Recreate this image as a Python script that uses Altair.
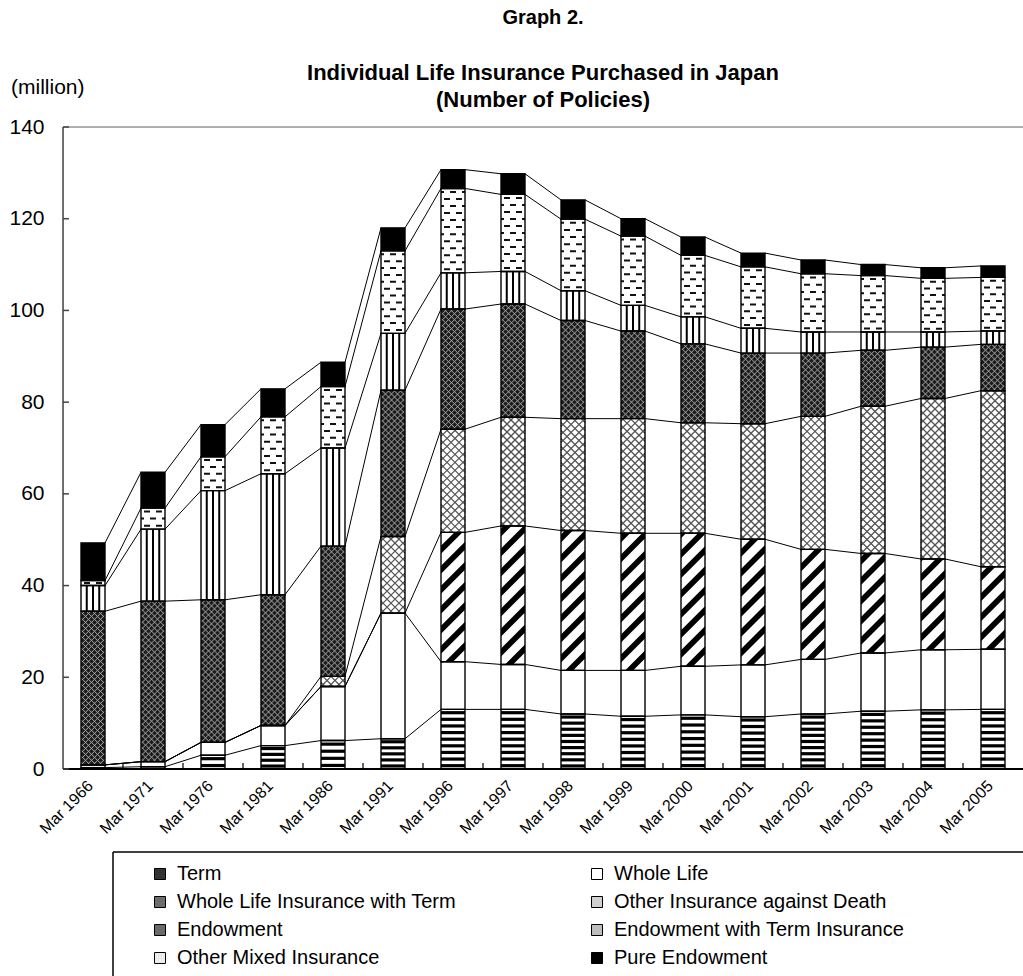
import json
import altair as alt
import pandas as pd

# ---------------- data (million policies) ----------------
years = ["Mar 1966", "Mar 1971", "Mar 1976", "Mar 1981", "Mar 1986", "Mar 1991",
         "Mar 1996", "Mar 1997", "Mar 1998", "Mar 1999", "Mar 2000", "Mar 2001",
         "Mar 2002", "Mar 2003", "Mar 2004", "Mar 2005"]
series = ["Term", "Whole Life", "Whole Life Insurance with Term",
          "Other Insurance against Death", "Endowment",
          "Endowment with Term Insurance", "Other Mixed Insurance", "Pure Endowment"]
term = [0.3, 0.5, 3.0, 5.1, 6.2, 6.6, 13.0, 13.0, 12.0, 11.5, 11.8, 11.4, 12.0, 12.6, 12.9, 13.0]
whole_life = [0.6, 1.1, 2.8, 4.4, 11.8, 27.4, 10.4, 9.8, 9.5, 10.0, 10.6, 11.3, 11.9, 12.7, 13.1, 13.1]
whole_life_term = [0, 0, 0, 0, 0, 0, 28.2, 30.2, 30.5, 29.9, 29.0, 27.4, 24.0, 21.7, 19.8, 18.0]
other_death = [0, 0, 0, 0, 2.2, 16.7, 22.5, 23.7, 24.4, 25.0, 24.1, 25.2, 29.0, 32.1, 35.0, 38.4]
endowment = [33.5, 35.0, 31.1, 28.5, 28.4, 31.9, 26.2, 24.7, 21.4, 19.1, 17.2, 15.4, 13.8, 12.2, 11.2, 10.1]
endow_term = [5.6, 15.7, 23.8, 26.4, 21.4, 12.4, 7.9, 7.1, 6.5, 5.6, 5.9, 5.4, 4.6, 4.0, 3.3, 2.9]
other_mixed = [1.1, 4.6, 7.4, 12.4, 13.4, 18.0, 18.4, 16.8, 15.6, 15.1, 13.4, 13.4, 12.7, 12.3, 11.7, 11.7]
pure_endow = [8.2, 7.8, 7.0, 6.1, 5.3, 5.0, 4.1, 4.5, 4.2, 3.8, 4.0, 3.0, 3.0, 2.4, 2.3, 2.5]
y_ticks = [0, 20, 40, 60, 80, 100, 120, 140]
# legend reading order (two columns, filled column by column)
legend_order = ["Term", "Whole Life Insurance with Term", "Endowment", "Other Mixed Insurance",
                "Whole Life", "Other Insurance against Death",
                "Endowment with Term Insurance", "Pure Endowment"]

# ---------------- layout / style ----------------
FONT = "Liberation Sans"
W, H = 960, 642
YMAX = 140
KX = W / 16.0          # px per x unit
KY = H / YMAX          # px per y unit
HALF = 0.2             # half bar width in x units

legend_color_map = {"Term": "#333333", "Whole Life": "#ffffff",
                    "Whole Life Insurance with Term": "#6e6e6e",
                    "Other Insurance against Death": "#d0d0d0", "Endowment": "#6a6a6a",
                    "Endowment with Term Insurance": "#bdbdbd",
                    "Other Mixed Insurance": "#ececec", "Pure Endowment": "#000000"}
bg_map = {"Term": "#ffffff", "Whole Life": "#ffffff",
          "Whole Life Insurance with Term": "#ffffff",
          "Other Insurance against Death": "#ffffff", "Endowment": "#1c1c1c",
          "Endowment with Term Insurance": "#ffffff",
          "Other Mixed Insurance": "#ffffff", "Pure Endowment": "#000000"}

cols = [term, whole_life, whole_life_term, other_death, endowment,
        endow_term, other_mixed, pure_endow]

seg_rows = []
cum_tops = {s: [] for s in series}
for i, yr in enumerate(years):
    base = 0.0
    for s, vals in zip(series, cols):
        v = vals[i]
        seg_rows.append(dict(year=yr, idx=i, series=s, xl=i - HALF, xr=i + HALF,
                             y0=base, y1=base + v, bg=bg_map[s]))
        base += v
        cum_tops[s].append(base)
seg = pd.DataFrame(seg_rows)


def segs_of(name):
    return [r for r in seg_rows if r["series"] == name and r["y1"] - r["y0"] > 1e-9]


def px_size(r):
    return (r["xr"] - r["xl"]) * KX, (r["y1"] - r["y0"]) * KY


def diag_lines(r, spacing):
    w, h = px_size(r)
    out = []
    c = -w
    while c < h:
        us, ue = max(0.0, -c), min(w, h - c)
        if ue - us > 0.3:
            out.append((us, us + c, ue, ue + c))
        c += spacing
    c = spacing / 2.0
    while c < h + w:
        us, ue = max(0.0, c - h), min(w, c)
        if ue - us > 0.3:
            out.append((us, c - us, ue, c - ue))
        c += spacing
    return [dict(x=r["xl"] + a / KX, y=r["y0"] + b / KY,
                 x2=r["xl"] + cc / KX, y2=r["y0"] + d / KY) for a, b, cc, d in out]


def stripe_areas(r, period, thick, sid0):
    w, h = px_size(r)
    rows = []
    sid = sid0
    c = -w - thick
    while c < h:
        bps = {0.0, w}
        for val in (-c, h - c, -c - thick, h - c - thick):
            if 0 < val < w:
                bps.add(val)
        pts = sorted(bps)
        lo = [min(max(u + c, 0.0), h) for u in pts]
        hi = [min(max(u + c + thick, 0.0), h) for u in pts]
        if any(b - a > 0.05 for a, b in zip(lo, hi)):
            for u, a, b in zip(pts, lo, hi):
                rows.append(dict(sid=sid, x=r["xl"] + u / KX,
                                 lo=r["y0"] + a / KY, hi=r["y0"] + b / KY))
            sid += 1
        c += period
    return rows, sid


# Term: horizontal stripes
term_rows = []
for r in segs_of("Term"):
    w, h = px_size(r)
    n = int(round(h / 6.4))
    for k in range(n):
        v = (k + 0.5) * h / n
        yv = r["y0"] + v / KY
        term_rows.append(dict(x=r["xl"], x2=r["xr"], y=yv, y2=yv))
term_df = pd.DataFrame(term_rows)

# Whole life with term: thick diagonal stripes
wlt_rows = []
sid = 0
for r in segs_of("Whole Life Insurance with Term"):
    rr, sid = stripe_areas(r, 20.0, 8.0, sid)
    wlt_rows += rr
wlt_df = pd.DataFrame(wlt_rows).sort_values(["sid", "x"])

# Other insurance against death: grey cross-hatch
oiad_rows = []
for r in segs_of("Other Insurance against Death"):
    oiad_rows += diag_lines(r, 8.0)
oiad_df = pd.DataFrame(oiad_rows)

# Endowment: dense light cross-hatch on dark ground
end_rows = []
for r in segs_of("Endowment"):
    end_rows += diag_lines(r, 6.0)
end_df = pd.DataFrame(end_rows)

# Endowment with term: vertical lines
ewt_rows = []
for r in segs_of("Endowment with Term Insurance"):
    for f in (0.24, 0.5, 0.76):
        xv = r["xl"] + f * (r["xr"] - r["xl"])
        ewt_rows.append(dict(x=xv, x2=xv, y=r["y0"], y2=r["y1"]))
ewt_df = pd.DataFrame(ewt_rows)

# Other mixed: staggered dashes
om_even, om_odd = [], []
for r in segs_of("Other Mixed Insurance"):
    w, h = px_size(r)
    n = int(round(h / 7.0))
    for k in range(n):
        v = (k + 0.5) * h / n
        yv = r["y0"] + v / KY
        (om_even if k % 2 == 0 else om_odd).append(dict(x=r["xl"], x2=r["xr"], y=yv, y2=yv))
om_even_df = pd.DataFrame(om_even)
om_odd_df = pd.DataFrame(om_odd)

# series lines between bars
sl_rows = []
for s in series:
    t = cum_tops[s]
    for i in range(len(years) - 1):
        sl_rows.append(dict(x=i + HALF, x2=i + 1 - HALF, y=t[i], y2=t[i + 1]))
sl_df = pd.DataFrame(sl_rows)

ytick_df = pd.DataFrame({"v": y_ticks})
xtick_df = pd.DataFrame({"x": [i + 0.5 for i in range(len(years) - 1)]})

xs = alt.Scale(domain=[-0.5, 15.5], nice=False, zero=False)
ys = alt.Scale(domain=[0, YMAX], nice=False)

label_expr = json.dumps(years) + "[datum.value]"
X_AX = alt.Axis(
    values=list(range(len(years))), labelExpr=label_expr, labelAngle=-45,
    labelAlign="right", labelBaseline="middle", labelFontSize=16,
    labelFont=FONT, labelColor="black", ticks=False, domain=False, grid=False,
    labelPadding=14, labelOffset=-3, labelOverlap=False, labelFlush=False, title=None)
Y_AX = alt.Axis(
    values=y_ticks, labelFontSize=21, labelFont=FONT, labelColor="black",
    ticks=False, domain=False, grid=False, labelPadding=19, title=None)


def rules(df, color, width, **kw):
    return alt.Chart(df).mark_rule(color=color, strokeWidth=width, **kw).encode(
        x=alt.X("x:Q", scale=xs, axis=X_AX), x2="x2:Q",
        y=alt.Y("y:Q", scale=ys, axis=Y_AX), y2="y2:Q")


base = alt.Chart(seg).mark_rect().encode(
    x=alt.X("xl:Q", scale=xs, axis=X_AX),
    x2="xr:Q",
    y=alt.Y("y0:Q", scale=ys, stack=False, axis=Y_AX),
    y2="y1:Q",
    color=alt.Color("series:N",
                    scale=alt.Scale(domain=legend_order,
                                    range=[legend_color_map[s] for s in legend_order]),
                    legend=alt.Legend(
                        orient="none", legendX=87, legendY=737, columns=2, title=None,
                        labelFont=FONT, labelFontSize=20, labelColor="black",
                        labelLimit=500, labelOffset=7, symbolType="square",
                        symbolSize=121, symbolStrokeColor="black",
                        symbolStrokeWidth=1, columnPadding=130, rowPadding=8,
                        padding=0)),
)

ground = alt.Chart(seg).mark_rect().encode(
    x=alt.X("xl:Q", scale=xs, axis=X_AX), x2="xr:Q",
    y=alt.Y("y0:Q", scale=ys, axis=Y_AX, stack=False), y2="y1:Q",
    fill=alt.Fill("bg:N", scale=None))

term_layer = rules(term_df, "black", 3.2)
wlt_layer = alt.Chart(wlt_df).mark_area(color="black", interpolate="linear").encode(
    x=alt.X("x:Q", scale=xs, axis=X_AX),
    y=alt.Y("lo:Q", scale=ys, axis=Y_AX, stack=False), y2="hi:Q",
    detail="sid:N")
oiad_layer = rules(oiad_df, "#555555", 1.3)
end_layer = rules(end_df, "#a8a8a8", 1.0)
ewt_layer = rules(ewt_df, "black", 2.0)
om_even_layer = rules(om_even_df, "#111111", 2.0, strokeDash=[6, 6], strokeDashOffset=9)
om_odd_layer = rules(om_odd_df, "#111111", 2.0, strokeDash=[6, 6], strokeDashOffset=3)

outline = alt.Chart(seg).mark_rect(fillOpacity=0, stroke="black", strokeWidth=1.4).encode(
    x=alt.X("xl:Q", scale=xs, axis=X_AX), x2="xr:Q",
    y=alt.Y("y0:Q", scale=ys, axis=Y_AX, stack=False), y2="y1:Q")

series_lines = rules(sl_df, "black", 1.0)

frame_df = pd.DataFrame({"k": [0]})
top_border = alt.Chart(frame_df).mark_rule(color="#9a9a9a", strokeWidth=1.5).encode(
    x=alt.value(0), x2=alt.value(W), y=alt.value(0))
left_axis = alt.Chart(frame_df).mark_rule(color="#444444", strokeWidth=1.5).encode(
    x=alt.value(0), y=alt.value(0), y2=alt.value(H))
bottom_axis = alt.Chart(frame_df).mark_rule(color="black", strokeWidth=2).encode(
    x=alt.value(0), x2=alt.value(W), y=alt.value(H))
y_tick_layer = alt.Chart(ytick_df).mark_rule(color="#444444", strokeWidth=1.5).encode(
    y=alt.Y("v:Q", scale=ys, axis=Y_AX), x=alt.value(0), x2=alt.value(6))
x_tick_layer = alt.Chart(xtick_df).mark_rule(color="black", strokeWidth=1.2).encode(
    x=alt.X("x:Q", scale=xs, axis=X_AX), y=alt.value(H), y2=alt.value(H - 6))

legend_top = alt.Chart(frame_df).mark_rule(color="black", strokeWidth=1.5).encode(
    x=alt.value(50), x2=alt.value(W + 5), y=alt.value(725))
legend_left = alt.Chart(frame_df).mark_rule(color="black", strokeWidth=1.5).encode(
    x=alt.value(50), y=alt.value(725), y2=alt.value(860))


def text_layer(txt, x, y, size, weight="normal", align="center"):
    return alt.Chart(pd.DataFrame({"t": [txt]})).mark_text(
        font=FONT, fontSize=size, fontWeight=weight, align=align,
        baseline="middle", color="black").encode(
        x=alt.value(x), y=alt.value(y), text="t:N")


t_graph = text_layer("Graph 2.", 480, -109, 20, "bold")
t_line1 = text_layer("Individual Life Insurance Purchased in Japan", 480, -54, 22, "bold")
t_line2 = text_layer("(Number of Policies)", 480, -27, 22, "bold")
t_unit = text_layer("(million)", -52, -39, 21, "normal", "left")

chart = alt.layer(
    base, ground, term_layer, wlt_layer, oiad_layer, end_layer, ewt_layer,
    om_even_layer, om_odd_layer, outline, series_lines,
    top_border, left_axis, bottom_axis, y_tick_layer, x_tick_layer,
    legend_top, legend_left, t_graph, t_line1, t_line2, t_unit
).properties(
    width=W, height=H,
    autosize=alt.AutoSizeParams(type="none"),
    padding={"left": 63, "top": 127, "right": 0, "bottom": 207},
    background="white",
).configure_view(strokeWidth=0).configure(font=FONT)

chart.save("out.html", embed_options={"renderer": "svg", "actions": False})
